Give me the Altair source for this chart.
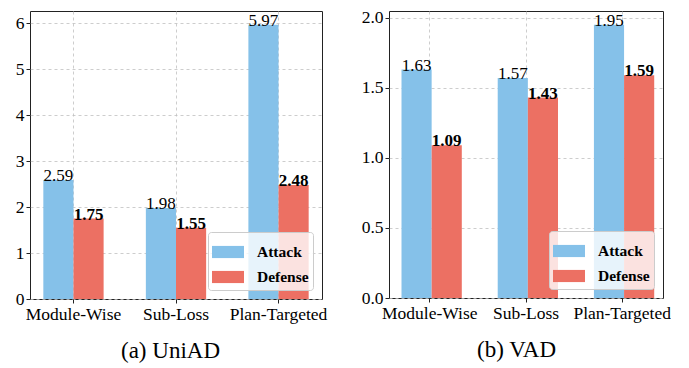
import altair as alt
import pandas as pd

categories = ["Module-Wise", "Sub-Loss", "Plan-Targeted"]
series = ["Attack", "Defense"]
uniad_attack = [2.59, 1.98, 5.97]
uniad_defense = [1.75, 1.55, 2.48]
vad_attack = [1.63, 1.57, 1.95]
vad_defense = [1.09, 1.43, 1.59]
uniad_ticks = [0, 1, 2, 3, 4, 5, 6]
vad_ticks = [0.0, 0.5, 1.0, 1.5, 2.0]
colors = ["#85C1E9", "#EC7063"]

FONT = "Liberation Serif, Times New Roman, Times, serif"


def make_df(attack, defense):
    rows = []
    for c, a, d in zip(categories, attack, defense):
        rows.append({"category": c, "series": "Attack", "value": a})
        rows.append({"category": c, "series": "Defense", "value": d})
    return pd.DataFrame(rows)


def panel(attack, defense, ticks, ymax, fmt, caption, width, height, dx):
    df = make_df(attack, defense)
    x = alt.X("category:N", sort=categories,
              scale=alt.Scale(paddingInner=0.412, paddingOuter=0.13),
              axis=alt.Axis(labelAngle=0, grid=True, bandPosition=0.5,
                            gridDash=[3, 3], gridColor="#c0c0c0", gridWidth=0.8,
                            domain=False, tickColor="#222", tickSize=4,
                            labelFont=FONT, labelFontSize=17.5, labelColor="#000",
                            labelPadding=2, title=caption, titleFont=FONT,
                            titleFontSize=23, titleFontWeight="normal",
                            titleColor="#000", titlePadding=17, titleX=width / 2 + dx))
    xo = alt.XOffset("series:N", sort=series,
                     scale=alt.Scale(paddingInner=0, paddingOuter=0))
    y = alt.Y("value:Q", title=None,
              scale=alt.Scale(domain=[0, ymax], nice=False, zero=True),
              axis=alt.Axis(values=ticks, format=fmt, grid=True,
                            gridDash=[3, 3], gridColor="#c0c0c0", gridWidth=0.8,
                            domain=False, tickColor="#222", tickSize=4,
                            labelFont=FONT, labelFontSize=17.5, labelColor="#000",
                            labelPadding=2))
    base = alt.Chart(df)
    bars = base.mark_bar().encode(
        x=x, xOffset=xo, y=y,
        color=alt.Color("series:N", sort=series,
                        scale=alt.Scale(domain=series, range=colors),
                        legend=alt.Legend(
                            title=None, orient="bottom-right", offset=9,
                            fillColor="rgba(255,255,255,0.8)",
                            strokeColor="#cccccc", cornerRadius=3,
                            padding=4, rowPadding=-2,
                            symbolType="M-1,-0.38L1,-0.38L1,0.38L-1,0.38Z",
                            symbolSize=1024, symbolOpacity=1,
                            symbolStrokeWidth=0, labelOffset=13,
                            labelFont=FONT, labelFontSize=15.5,
                            labelFontWeight="bold", labelColor="#000")),
    )
    t_attack = base.transform_filter(alt.datum.series == "Attack").mark_text(
        baseline="alphabetic", align="center", dy=1, font=FONT, fontSize=17,
        color="#000").encode(x=x, xOffset=xo, y=y, text=alt.Text("value:Q", format=".2f"))
    t_def = base.transform_filter(alt.datum.series == "Defense").mark_text(
        baseline="alphabetic", align="center", dy=1, font=FONT, fontSize=17,
        fontWeight="bold", color="#000").encode(
        x=x, xOffset=xo, y=y, text=alt.Text("value:Q", format=".2f"))
    return alt.layer(bars, t_attack, t_def).properties(width=width, height=height)


left = panel(uniad_attack, uniad_defense, uniad_ticks, 6.27, "d", "(a) UniAD",
             292, 288, -6)
right = panel(vad_attack, vad_defense, vad_ticks, 2.0475, ".1f", "(b) VAD",
              274, 287, -10)

chart = alt.hconcat(left, right, spacing=32).resolve_scale(
    color="independent").resolve_legend(color="independent").configure_view(
    stroke="#222", strokeWidth=1).properties(
    padding={"left": 6, "top": 0, "right": 0, "bottom": 0},
    background="white")

chart.save("out.html", embed_options={"renderer": "svg", "actions": False})
